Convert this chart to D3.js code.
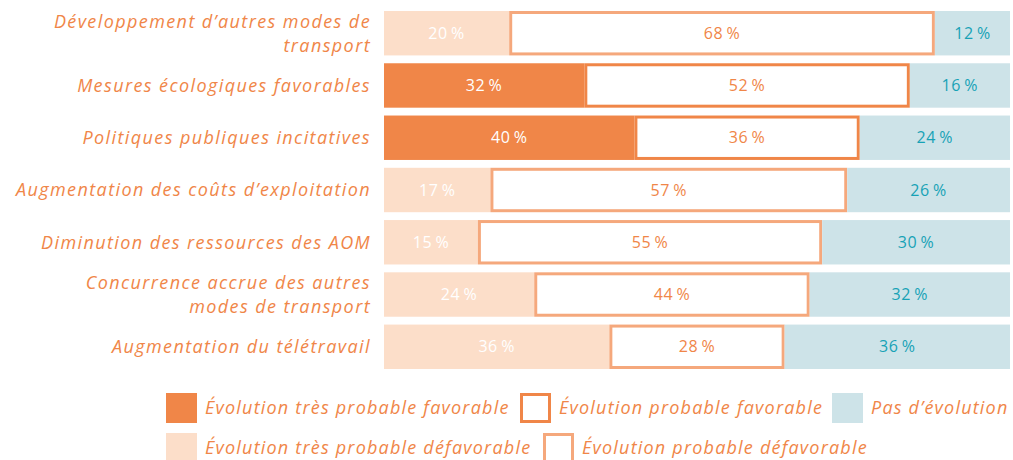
<!DOCTYPE html>
<html>
<head>
<meta charset="utf-8">
<script src="https://cdn.jsdelivr.net/npm/d3@7"></script>
<style>
  body { margin: 0; background: #fff; }
  text { font-family: "Open Sans", sans-serif; }
</style>
</head>
<body>
<div class="chart"></div>
<script>
// Data
var categories = [
  ["Développement d’autres modes de", "transport"],
  ["Mesures écologiques favorables"],
  ["Politiques publiques incitatives"],
  ["Augmentation des coûts d’exploitation"],
  ["Diminution des ressources des AOM"],
  ["Concurrence accrue des autres", "modes de transport"],
  ["Augmentation du télétravail"]
];
var tresProbFav   = [0, 32, 40, 0, 0, 0, 0];
var tresProbDefav = [20, 0, 0, 17, 15, 24, 36];
var probFav       = [0, 52, 36, 0, 0, 0, 0];
var probDefav     = [68, 0, 0, 57, 55, 44, 28];
var pasEvol       = [12, 16, 24, 26, 30, 32, 36];

var seriesKeys = ["tresProbFav", "tresProbDefav", "probFav", "probDefav", "pasEvol"];
var seriesNames = {
  tresProbFav: "Évolution très probable favorable",
  probFav: "Évolution probable favorable",
  pasEvol: "Pas d’évolution",
  tresProbDefav: "Évolution très probable défavorable",
  probDefav: "Évolution probable défavorable"
};

var orange = "#f08648", peach = "#fcdec9", blue = "#cde3e8", lightLine = "#f5a87c", teal = "#17a2b6";
var fills = { tresProbFav: orange, tresProbDefav: peach, probFav: "#fff", probDefav: "#fff", pasEvol: blue };
var strokes = { probFav: orange, probDefav: lightLine };
var textColors = { tresProbFav: "#fff", tresProbDefav: "#fff", probFav: orange, probDefav: orange, pasEvol: teal };

var svgWidth = 1013, svgHeight = 460;
var svg = d3.select(".chart").append("svg")
  .attr("width", svgWidth).attr("height", svgHeight);

var rows = categories.map(function(c, i) {
  return {
    idx: i,
    tresProbFav: tresProbFav[i], tresProbDefav: tresProbDefav[i],
    probFav: probFav[i], probDefav: probDefav[i], pasEvol: pasEvol[i]
  };
});

var x = d3.scaleLinear().domain([0, 100]).range([384, 1010]);
var y = d3.scaleBand().domain(d3.range(categories.length)).range([11, 369]).paddingInner(0.15).paddingOuter(0);

var stacked = d3.stack().keys(seriesKeys)(rows);

stacked.forEach(function(layer) {
  var key = layer.key;
  var g = svg.append("g");
  var segs = layer.filter(function(d) { return d[1] - d[0] > 0; });
  var sw = strokes[key] ? 3 : 0;
  g.selectAll("rect").data(segs).enter().append("rect")
    .attr("x", function(d) { return x(d[0]) + sw / 2; })
    .attr("y", function(d) { return y(d.data.idx) + sw / 2; })
    .attr("width", function(d) { return x(d[1]) - x(d[0]) - sw; })
    .attr("height", y.bandwidth() - sw)
    .attr("fill", fills[key])
    .attr("stroke", strokes[key] || "none")
    .attr("stroke-width", sw);
  g.selectAll("text").data(segs).enter().append("text")
    .attr("x", function(d) { return (x(d[0]) + x(d[1])) / 2; })
    .attr("y", function(d) { return y(d.data.idx) + y.bandwidth() / 2; })
    .attr("dy", "0.35em")
    .attr("text-anchor", "middle")
    .attr("font-size", 16)
    .attr("letter-spacing", 0.6)
    .attr("fill", textColors[key])
    .text(function(d) { return (d[1] - d[0]) + "\u2009%"; });
});

// category labels
categories.forEach(function(lines, i) {
  var cy = y(i) + y.bandwidth() / 2;
  var t = svg.append("text")
    .attr("text-anchor", "end")
    .attr("font-size", 18)
    .attr("letter-spacing", 1.4)
    .attr("font-style", "italic")
    .attr("fill", orange);
  lines.forEach(function(line, j) {
    t.append("tspan")
      .attr("x", 371)
      .attr("y", cy + (j - (lines.length - 1) / 2) * 24)
      .attr("dy", "0.35em")
      .text(line);
  });
});

// legend
var legendItems = [
  { key: "tresProbFav", x: 166, y: 393 },
  { key: "probFav", x: 520, y: 393 },
  { key: "pasEvol", x: 832, y: 393 },
  { key: "tresProbDefav", x: 166, y: 433 },
  { key: "probDefav", x: 543, y: 433 }
];
var legend = svg.append("g");
legendItems.forEach(function(it) {
  var sw = strokes[it.key] ? 3 : 0;
  legend.append("rect")
    .attr("x", it.x + sw / 2).attr("y", it.y + sw / 2)
    .attr("width", 31 - sw).attr("height", 30 - sw)
    .attr("fill", fills[it.key])
    .attr("stroke", strokes[it.key] || "none")
    .attr("stroke-width", sw);
  legend.append("text")
    .attr("x", it.x + 39).attr("y", it.y + 15)
    .attr("dy", "0.35em")
    .attr("font-size", 18)
    .attr("letter-spacing", 1.2)
    .attr("font-style", "italic")
    .attr("fill", orange)
    .text(seriesNames[it.key]);
});
</script>
</body>
</html>
